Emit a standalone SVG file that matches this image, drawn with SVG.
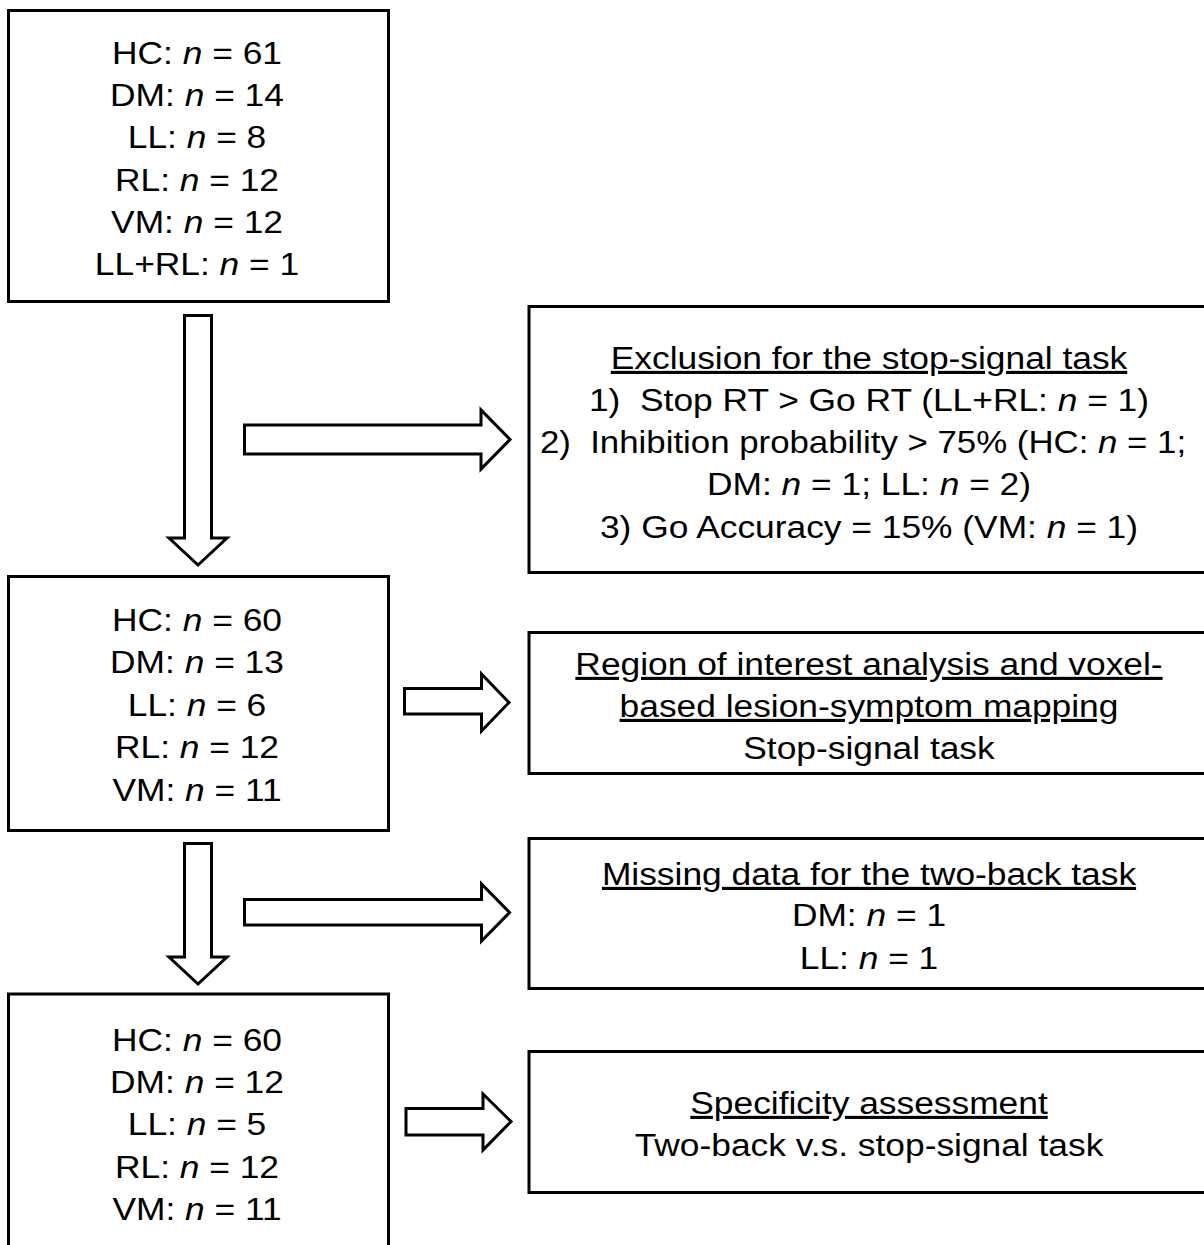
<svg xmlns="http://www.w3.org/2000/svg" width="1204" height="1245" viewBox="0 0 1204 1245">
<style>
  .box { fill: #ffffff; stroke: #000000; stroke-width: 3; }
  .arr { fill: #ffffff; stroke: #000000; stroke-width: 3; stroke-linejoin: miter; }
  text { font-family: "Liberation Sans", Arial, sans-serif; font-size: 31px; fill: #000000; text-anchor: middle; }
  .i { font-style: italic; }
  .u { text-decoration: underline; }
</style>
<rect width="1204" height="1245" fill="#ffffff"/>

<g id="connectors">
  <path class="arr" d="M184.5,315.5 H211.5 V538 H227 L198,565 L169,538 H184.5 Z"/>
  <path class="arr" d="M244.5,425 H481 V410 L510,439.5 L481,469 V454 H244.5 Z"/>
  <path class="arr" d="M404.5,688.5 H481.5 V674 L509,702.5 L481.5,731 V714 H404.5 Z"/>
  <path class="arr" d="M184.5,843.5 H211.5 V957 H227 L198,984 L169,957 H184.5 Z"/>
  <path class="arr" d="M244.5,899.5 H481.5 V884 L509.5,912.5 L481.5,941 V925 H244.5 Z"/>
  <path class="arr" d="M406,1108.5 H483 V1094 L511,1121.5 L483,1150 V1135 H406 Z"/>
</g>

<g id="node-initial">
  <rect class="box" x="8.5" y="10.5" width="380" height="291"/>
  <g transform="translate(197 0) scale(1.14 1)">
    <text x="0" y="64">HC: <tspan class="i">n</tspan> = 61</text>
    <text x="0" y="106">DM: <tspan class="i">n</tspan> = 14</text>
    <text x="0" y="148">LL: <tspan class="i">n</tspan> = 8</text>
    <text x="0" y="191">RL: <tspan class="i">n</tspan> = 12</text>
    <text x="0" y="233">VM: <tspan class="i">n</tspan> = 12</text>
    <text x="0" y="275">LL+RL: <tspan class="i">n</tspan> = 1</text>
  </g>
</g>

<g id="node-exclusion">
  <rect class="box" x="529" y="306.5" width="690" height="266"/>
  <g transform="translate(869 0) scale(1.14 1)">
    <text x="0" y="369" class="u">Exclusion for the stop-signal task</text>
    <text x="0" y="411">1)&#160; Stop RT &gt; Go RT (LL+RL: <tspan class="i">n</tspan> = 1)</text>
    <text x="0" y="495">DM: <tspan class="i">n</tspan> = 1; LL: <tspan class="i">n</tspan> = 2)</text>
    <text x="0" y="538">3) Go Accuracy = 15% (VM: <tspan class="i">n</tspan> = 1)</text>
  </g>
  <g transform="translate(863 0) scale(1.123 1)">
    <text x="0" y="453">2)&#160; Inhibition probability &gt; 75% (HC: <tspan class="i">n</tspan> = 1;</text>
  </g>
</g>

<g id="node-stop-sample">
  <rect class="box" x="8.5" y="576.5" width="380" height="254"/>
  <g transform="translate(197 0) scale(1.14 1)">
    <text x="0" y="631">HC: <tspan class="i">n</tspan> = 60</text>
    <text x="0" y="673">DM: <tspan class="i">n</tspan> = 13</text>
    <text x="0" y="716">LL: <tspan class="i">n</tspan> = 6</text>
    <text x="0" y="758">RL: <tspan class="i">n</tspan> = 12</text>
    <text x="0" y="801">VM: <tspan class="i">n</tspan> = 11</text>
  </g>
</g>

<g id="node-roi">
  <rect class="box" x="529" y="632.5" width="690" height="141"/>
  <g transform="translate(869 0) scale(1.14 1)">
    <text x="0" y="675" class="u">Region of interest analysis and voxel-</text>
    <text x="0" y="717" class="u">based lesion-symptom mapping</text>
    <text x="0" y="759">Stop-signal task</text>
  </g>
</g>

<g id="node-missing">
  <rect class="box" x="529" y="838.5" width="690" height="150"/>
  <g transform="translate(869 0) scale(1.14 1)">
    <text x="0" y="885" class="u">Missing data for the two-back task</text>
    <text x="0" y="926">DM: <tspan class="i">n</tspan> = 1</text>
    <text x="0" y="969">LL: <tspan class="i">n</tspan> = 1</text>
  </g>
</g>

<g id="node-final">
  <rect class="box" x="8.5" y="994" width="380" height="262"/>
  <g transform="translate(197 0) scale(1.14 1)">
    <text x="0" y="1051">HC: <tspan class="i">n</tspan> = 60</text>
    <text x="0" y="1093">DM: <tspan class="i">n</tspan> = 12</text>
    <text x="0" y="1135">LL: <tspan class="i">n</tspan> = 5</text>
    <text x="0" y="1178">RL: <tspan class="i">n</tspan> = 12</text>
    <text x="0" y="1220">VM: <tspan class="i">n</tspan> = 11</text>
  </g>
</g>

<g id="node-specificity">
  <rect class="box" x="529" y="1051.5" width="690" height="141"/>
  <g transform="translate(869 0) scale(1.14 1)">
    <text x="0" y="1114" class="u">Specificity assessment</text>
    <text x="0" y="1156">Two-back v.s. stop-signal task</text>
  </g>
</g>
</svg>
